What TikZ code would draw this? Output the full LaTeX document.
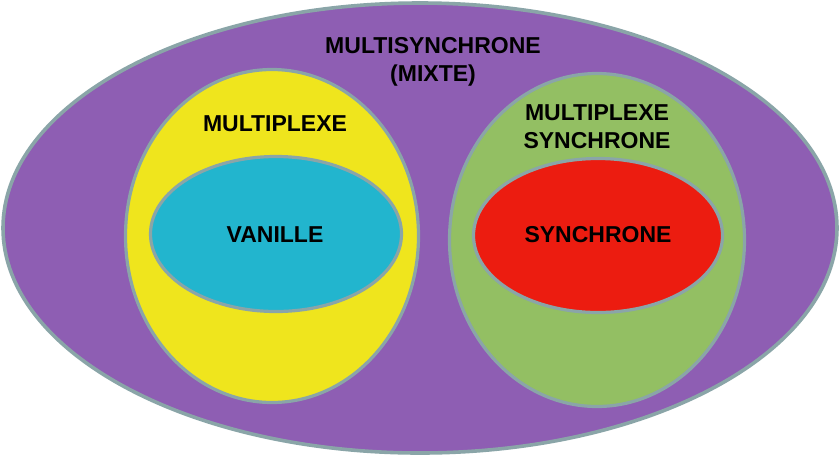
\documentclass[tikz,border=0pt]{standalone}
\usepackage{fontspec}
\setmainfont{Liberation Sans}
\usetikzlibrary{shapes.geometric}
\definecolor{cpurple}{HTML}{8E5EB3}
\definecolor{cyellow}{HTML}{EFE51D}
\definecolor{ccyan}{HTML}{22B5CE}
\definecolor{cgreen}{HTML}{93BF63}
\definecolor{cred}{HTML}{EC1C10}
\definecolor{cborder}{HTML}{8AA5A8}
\tikzset{
  setshape/.style={ellipse, draw=cborder, line width=3.2pt, inner sep=0pt, outer sep=0pt},
  lbl/.style={font=\fontsize{23}{28}\selectfont\bfseries, align=center, inner sep=0pt, text=black}
}
\begin{document}
\begin{tikzpicture}[x=1pt,y=-1pt]
\useasboundingbox[fill=white] (0,0) rectangle (840,456);
\node[setshape, fill=cpurple, line width=3.6pt, minimum width=834pt, minimum height=450pt] (outer) at (420,228) {};
\node[setshape, fill=cyellow, minimum width=293pt, minimum height=333pt] (mult) at (272,236) {};
\node[setshape, fill=ccyan, minimum width=251pt, minimum height=155pt] (van) at (276,234) {};
\node[setshape, fill=cgreen, minimum width=295pt, minimum height=333pt] (msync) at (597,240) {};
\node[setshape, fill=cred, minimum width=249pt, minimum height=154pt] (sync) at (598,235.5) {};
\node[lbl] (touter) at (433,62) {MULTISYNCHRONE\\(MIXTE)};
\node[lbl] (tmult) at (275,124) {MULTIPLEXE};
\node[lbl] (tmsync) at (597,126.5) {MULTIPLEXE\\SYNCHRONE};
\node[lbl] (tvan) at (275,234.5) {VANILLE};
\node[lbl] (tsync) at (598,235) {SYNCHRONE};
\end{tikzpicture}
\end{document}
